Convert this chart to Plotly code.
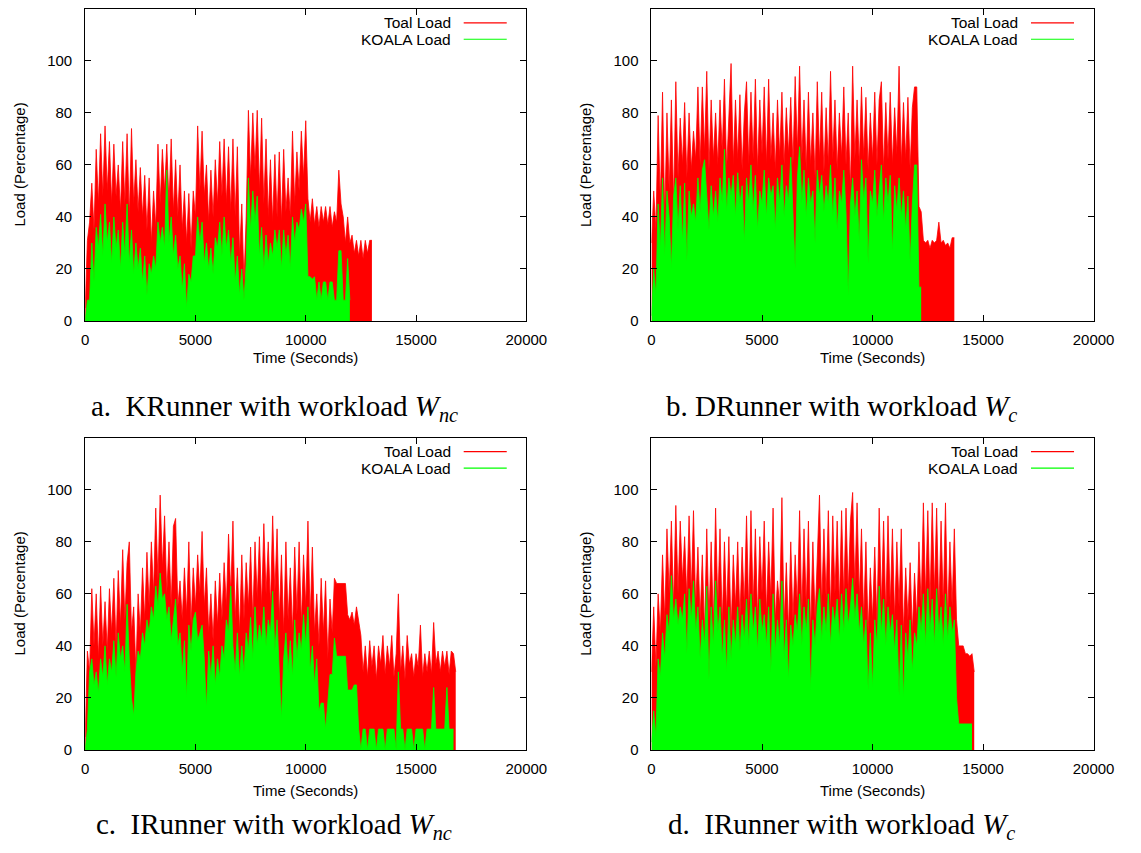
import plotly.graph_objects as go

W, H = 1141, 853
STEP = 100  # seconds between samples

# ---------------- data ----------------
# a. KRunner with workload W_nc
total_a = [5, 31, 38, 53, 35, 66, 45, 72, 48, 75,
           50, 69, 45, 68, 48, 60, 42, 69, 45, 72,
           40, 74, 45, 62, 42, 59, 40, 56, 35, 55,
           30, 50, 36, 68, 45, 66, 50, 68, 45, 70,
           42, 62, 40, 60, 35, 50, 30, 49, 28, 50,
           40, 75, 50, 73, 48, 60, 38, 58, 40, 62,
           45, 69, 48, 70, 45, 67, 42, 70, 40, 67,
           25, 45, 15, 40, 81, 55, 80, 58, 81, 50,
           78, 45, 70, 40, 62, 38, 64, 40, 65, 38,
           66, 42, 55, 40, 73, 45, 65, 50, 73, 55,
           77, 47, 38, 47, 37, 44, 36, 44, 38, 44,
           37, 44, 36, 42, 38, 58, 45, 40, 30, 40,
           30, 33, 26, 31, 25, 31, 24, 31, 26, 31,
           31]
koala_a = [0, 8, 8, 30, 15, 36, 28, 41, 25, 45,
           30, 38, 22, 40, 28, 35, 20, 38, 25, 45,
           22, 35, 18, 30, 20, 28, 15, 25, 10, 22,
           18, 25, 20, 38, 30, 36, 28, 58, 30, 40,
           25, 33, 20, 25, 12, 22, 5, 18, 15, 25,
           25, 40, 30, 38, 22, 30, 20, 28, 18, 32,
           28, 38, 25, 40, 28, 35, 22, 32, 15, 25,
           10, 20, 8, 22, 55, 35, 50, 38, 48, 25,
           36, 20, 33, 22, 30, 25, 35, 28, 35, 20,
           35, 25, 33, 20, 40, 30, 38, 35, 43, 38,
           45, 17, 17, 16, 17, 8, 15, 8, 15, 15,
           8, 15, 15, 8, 8, 27, 27, 8, 8, 24,
           8, None, None, None, None, None, None, None, None, None,
           None]

# b. DRunner with workload W_c
total_b = [30, 50, 35, 79, 45, 88, 40, 80, 50, 85,
           45, 92, 55, 78, 60, 84, 55, 80, 58, 73,
           62, 90, 60, 90, 65, 96, 58, 85, 62, 80,
           60, 85, 65, 93, 58, 82, 99, 60, 85, 62,
           87, 58, 80, 92, 60, 88, 62, 93, 58, 85,
           64, 90, 60, 93, 62, 80, 58, 85, 63, 88,
           60, 82, 64, 86, 60, 94, 65, 98, 62, 85,
           58, 88, 60, 80, 55, 92, 62, 88, 57, 82,
           60, 96, 62, 85, 58, 80, 63, 90, 60, 80,
           50, 98, 62, 85, 60, 90, 63, 86, 58, 80,
           62, 88, 60, 85, 92, 58, 84, 62, 88, 60,
           82, 64, 98, 60, 84, 62, 86, 58, 82, 90,
           90, 44, 42, 31, 30, 31, 28, 31, 30, 31,
           38, 30, 31, 29, 30, 28, 32, 32]
koala_b = [2, 20, 10, 45, 28, 55, 25, 50, 40, 20,
           48, 55, 35, 52, 30, 53, 23, 50, 40, 45,
           38, 55, 42, 58, 62, 48, 35, 52, 40, 50,
           38, 55, 45, 66, 42, 55, 48, 56, 40, 57,
           45, 52, 30, 55, 45, 60, 42, 56, 35, 50,
           45, 58, 40, 55, 48, 52, 35, 55, 45, 60,
           40, 52, 46, 63, 40, 20, 55, 67, 45, 58,
           40, 55, 45, 50, 30, 58, 48, 56, 42, 52,
           45, 60, 40, 55, 35, 50, 45, 58, 42, 10,
           45, 55, 40, 50, 30, 62, 46, 55, 22, 50,
           45, 58, 40, 50, 60, 38, 55, 45, 56, 26,
           52, 42, 55, 40, 50, 35, 48, 22, 45, 60,
           60, 13, 13, None, None, None, None, None, None, None,
           None, None, None, None, None, None, None, None]

# c. IRunner with workload W_nc
total_c = [5, 38, 30, 62, 40, 60, 35, 63, 40, 57,
           38, 62, 45, 66, 40, 69, 48, 77, 50, 72,
           80, 45, 55, 30, 60, 45, 70, 50, 76, 55,
           80, 60, 93, 65, 98, 70, 90, 60, 80, 55,
           86, 89, 55, 65, 50, 70, 52, 80, 48, 70,
           55, 75, 60, 84, 55, 70, 45, 60, 42, 65,
           48, 68, 50, 72, 55, 83, 60, 88, 50, 70,
           45, 75, 50, 72, 55, 78, 50, 80, 58, 82,
           55, 87, 60, 80, 55, 90, 60, 85, 50, 75,
           45, 80, 50, 70, 45, 78, 52, 80, 48, 75,
           55, 88, 50, 78, 45, 60, 40, 66, 45, 65,
           35, 58, 45, 66, 64, 64, 64, 64, 64, 52,
           50, 53, 48, 55, 50, 44, 30, 40, 28, 42,
           32, 40, 27, 40, 33, 44, 29, 40, 32, 44,
           28, 37, 60, 30, 40, 27, 44, 33, 37, 28,
           37, 32, 48, 28, 37, 30, 38, 29, 49, 33,
           38, 30, 38, 32, 38, 29, 38, 37, 30]
koala_c = [0, 8, 30, 35, 25, 30, 22, 35, 28, 40,
           25, 35, 30, 42, 28, 45, 35, 40, 30, 56,
           35, 20, 13, 30, 38, 35, 45, 40, 50, 45,
           55, 50, 63, 55, 68, 58, 60, 50, 55, 42,
           50, 58, 40, 45, 30, 42, 20, 48, 38, 50,
           53, 42, 45, 48, 35, 16, 38, 28, 40, 25,
           35, 28, 40, 35, 50, 45, 63, 40, 30, 45,
           28, 40, 30, 45, 38, 51, 35, 55, 40, 48,
           42, 55, 40, 50, 45, 61, 38, 50, 30, 12,
           35, 45, 30, 42, 28, 50, 35, 45, 38, 52,
           40, 55, 30, 40, 25, 35, 15, 18, 18, 8,
           18, 29, 29, 43, 36, 36, 36, 36, 36, 23,
           23, 23, 25, 25, 8, 0, 8, 8, 0, 8,
           8, 8, 0, 8, 8, 8, 0, 8, 8, 8,
           8, 0, 30, 8, 8, 0, 8, 8, 8, 0,
           8, 8, 8, 8, 0, 8, 8, 8, 24, 8,
           8, 8, 8, 8, 24, 8, 8, 8, None]

# d. IRunner with workload W_c
total_d = [30, 55, 32, 60, 45, 75, 50, 85, 60, 88,
           55, 94, 60, 88, 65, 82, 58, 90, 60, 92,
           55, 78, 50, 75, 45, 85, 50, 80, 48, 93,
           55, 85, 48, 80, 52, 82, 45, 75, 55, 80,
           50, 78, 55, 90, 52, 92, 55, 85, 50, 82,
           60, 88, 52, 80, 58, 93, 50, 65, 55, 97,
           48, 72, 45, 80, 50, 75, 55, 92, 52, 85,
           55, 88, 45, 80, 50, 75, 98, 55, 85, 58,
           92, 52, 90, 60, 88, 55, 92, 58, 93, 60,
           88, 99, 62, 95, 58, 85, 50, 80, 45, 70,
           50, 78, 48, 93, 55, 88, 52, 90, 55, 85,
           50, 80, 55, 85, 45, 70, 50, 72, 45, 68,
           50, 80, 55, 95, 58, 92, 55, 95, 60, 93,
           52, 88, 55, 95, 50, 80, 55, 85, 50, 40,
           40, 40, 37, 37, 36, 37, 30]
koala_d = [3, 15, 5, 35, 28, 45, 35, 52, 45, 67,
           50, 58, 48, 55, 50, 60, 37, 62, 50, 65,
           45, 55, 35, 50, 40, 63, 27, 55, 40, 65,
           45, 55, 35, 50, 30, 55, 35, 50, 40, 55,
           38, 52, 42, 58, 40, 60, 45, 55, 38, 58,
           45, 52, 40, 55, 30, 60, 38, 50, 40, 65,
           35, 50, 27, 48, 40, 52, 45, 60, 40, 55,
           45, 58, 23, 50, 40, 55, 62, 42, 55, 45,
           60, 40, 55, 48, 58, 42, 60, 45, 62, 48,
           55, 66, 50, 60, 45, 55, 40, 50, 23, 45,
           24, 50, 40, 63, 45, 58, 40, 55, 45, 52,
           38, 50, 21, 48, 20, 45, 35, 50, 30, 45,
           40, 55, 45, 60, 40, 62, 45, 58, 40, 62,
           45, 55, 40, 60, 42, 55, 45, 50, 20, 10,
           10, 10, 10, 10, 10, 10, None]

series_names = ["Toal Load", "KOALA Load"]
captions = [
    "a.  KRunner with workload <i>W</i><sub><i>nc</i></sub>",
    "b. DRunner with workload <i>W</i><sub><i>c</i></sub>",
    "c.  IRunner with workload <i>W</i><sub><i>nc</i></sub>",
    "d.  IRunner with workload <i>W</i><sub><i>c</i></sub>",
]
x_ticks = [0, 5000, 10000, 15000, 20000]
y_ticks = [0, 20, 40, 60, 80, 100]
x_title = "Time (Seconds)"
y_title = "Load (Percentage)"

panels = [(total_a, koala_a), (total_b, koala_b), (total_c, koala_c), (total_d, koala_d)]

# ---------------- layout geometry (pixels) ----------------
# plot boxes: (left, right, top, bottom)
boxes = [(83, 534, 9, 324), (662, 1114, 9, 324),
         (83, 534, 442, 757), (662, 1114, 442, 757)]
title_offset = [37, 37, 41, 41]      # x-axis title below plot bottom
caption_y = [412, 412, 834, 834]     # caption centre
RED = "#ff0000"
GREEN = "#00ff00"
SANS = "Liberation Sans, Arial, Helvetica, sans-serif"
SERIF = "Liberation Serif, Times New Roman, serif"

def px(x):
    return x / W

def py(y):
    return 1 - y / H

fig = go.Figure()
layout = dict(width=W, height=H, autosize=False,
              margin=dict(l=0, r=0, t=0, b=0),
              paper_bgcolor="white", plot_bgcolor="white",
              showlegend=False, font=dict(family=SANS, size=15, color="#000"))
annotations = []
shapes = []

for k, ((tot, koa), (l, r, t, b)) in enumerate(zip(panels, boxes)):
    n = k + 1
    xa = "x" if n == 1 else f"x{n}"
    ya = "y" if n == 1 else f"y{n}"
    times_t = [i * STEP for i in range(len(tot))]
    times_k = [i * STEP for i in range(len(koa))]
    fig.add_trace(go.Scatter(x=times_t, y=tot, mode="lines", name=series_names[0],
                             line=dict(color=RED, width=0.8), fill="tozeroy",
                             fillcolor=RED, xaxis=xa, yaxis=ya, hoverinfo="skip"))
    fig.add_trace(go.Scatter(x=times_k, y=koa, mode="lines", name=series_names[1],
                             line=dict(color=GREEN, width=0.8), fill="tozeroy",
                             fillcolor=GREEN, xaxis=xa, yaxis=ya, hoverinfo="skip"))
    axcommon = dict(showline=True, linecolor="#000", linewidth=1, mirror="ticks",
                    ticks="inside", ticklen=6, tickcolor="#000", tickwidth=1,
                    showgrid=False, zeroline=False,
                    tickfont=dict(family=SANS, size=15, color="#000"))
    layout["xaxis" if n == 1 else f"xaxis{n}"] = dict(
        axcommon, domain=[px(l), px(r)], range=[0, 20000], tickmode="array",
        tickvals=x_ticks, ticktext=[str(v) for v in x_ticks],
        anchor=ya, ticklabelstandoff=5)
    layout["yaxis" if n == 1 else f"yaxis{n}"] = dict(
        axcommon, domain=[py(b), py(t)], range=[0, 120], tickmode="array",
        tickvals=y_ticks, ticktext=[str(v) for v in y_ticks],
        anchor=xa, ticklabelstandoff=9)

    # axis titles
    annotations.append(dict(x=px((l + r) / 2), y=py(b + title_offset[k]), xref="paper",
                            yref="paper", text=x_title, showarrow=False,
                            xanchor="center", yanchor="middle",
                            font=dict(family=SANS, size=15, color="#000")))
    annotations.append(dict(x=px(l - 67), y=py((t + b) / 2), xref="paper", yref="paper",
                            text=y_title, showarrow=False, textangle=-90,
                            xanchor="center", yanchor="middle",
                            font=dict(family=SANS, size=15, color="#000")))
    # gnuplot-style key: text right-aligned, sample line on the right
    for j, (name, col) in enumerate(zip(series_names, [RED, GREEN])):
        yy = t + 14 + 16.6 * j
        annotations.append(dict(x=px(r - 75), y=py(yy), xref="paper", yref="paper",
                                text=name, showarrow=False, xanchor="right", yanchor="middle",
                                font=dict(family=SANS, size=15.5, color="#000")))
        shapes.append(dict(type="line", xref="paper", yref="paper",
                           x0=px(r - 64), x1=px(r - 20), y0=py(yy), y1=py(yy),
                           line=dict(color=col, width=1.2)))
    # caption
    annotations.append(dict(x=px((l + r) / 2 - 32), y=py(caption_y[k]), xref="paper",
                            yref="paper", text=captions[k], showarrow=False,
                            xanchor="center", yanchor="middle",
                            font=dict(family=SERIF, size=29, color="#000")))

layout["annotations"] = annotations
layout["shapes"] = shapes
fig.update_layout(**layout)
fig.write_html("out.html")
